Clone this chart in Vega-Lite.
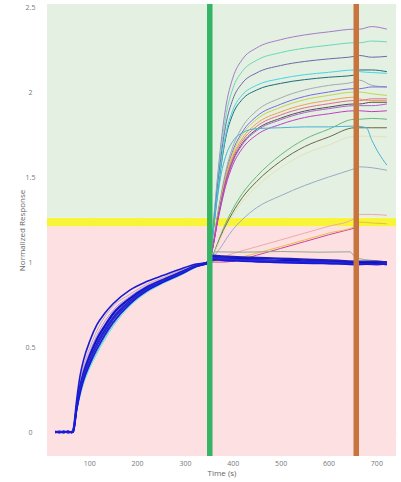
{
  "$schema": "https://vega.github.io/schema/vega-lite/v6.json",
  "width": 349,
  "height": 452,
  "autosize": {"type": "none"},
  "padding": {"left": 47, "top": 4, "right": 5, "bottom": 26},
  "background": "white",
  "config": {
    "view": {"stroke": null},
    "font": "Open Sans",
    "axis": {
      "zindex": 1,
      "domain": false,
      "ticks": false,
      "tickSize": 0,
      "grid": true,
      "gridColor": "#000000",
      "gridOpacity": 0.09,
      "labelFont": "Open Sans",
      "labelFontSize": 7,
      "labelColor": "#777777",
      "titleFont": "Open Sans",
      "titleFontSize": 8,
      "titleFontWeight": "normal",
      "titleColor": "#666666"
    }
  },
  "datasets": {
    "zones": [
      {"zone": "below", "lo": -0.3, "hi": 1.21},
      {"zone": "threshold", "lo": 1.21, "hi": 1.26},
      {"zone": "above", "lo": 1.26, "hi": 2.7}
    ],
    "events": [
      {"t": 352, "ev": "start"},
      {"t": 658, "ev": "end"}
    ],
    "assoc": [
      {"t": 29, "a1": 0, "a2": 0, "a7": 0, "a8": 0},
      {"t": 64, "a1": 0, "a2": 0, "a7": 0, "a8": 0},
      {"t": 67, "a1": 0.01, "a2": 0.01, "a7": 0.01, "a8": 0.01},
      {"t": 74, "a1": 0.172, "a2": 0.162, "a7": 0.126, "a8": 0.12},
      {"t": 81, "a1": 0.3, "a2": 0.282, "a7": 0.22, "a8": 0.21},
      {"t": 88, "a1": 0.385, "a2": 0.364, "a7": 0.291, "a8": 0.28},
      {"t": 102, "a1": 0.5, "a2": 0.476, "a7": 0.393, "a8": 0.38},
      {"t": 116, "a1": 0.595, "a2": 0.568, "a7": 0.474, "a8": 0.46},
      {"t": 150, "a1": 0.74, "a2": 0.716, "a7": 0.633, "a8": 0.62},
      {"t": 185, "a1": 0.81, "a2": 0.797, "a7": 0.748, "a8": 0.74},
      {"t": 220, "a1": 0.869, "a2": 0.859, "a7": 0.825, "a8": 0.82},
      {"t": 255, "a1": 0.909, "a2": 0.902, "a7": 0.879, "a8": 0.875},
      {"t": 290, "a1": 0.95, "a2": 0.944, "a7": 0.923, "a8": 0.92},
      {"t": 324, "a1": 0.985, "a2": 0.982, "a7": 0.972, "a8": 0.97},
      {"t": 352, "a1": 1.0, "a2": 1.0, "a7": 1.0, "a8": 1.0}
    ],
    "blue": [
      {"t": 29, "b0": 0, "b1": 0.005, "b2": -0.003, "b3": 0.002, "b4": 0, "b5": -0.004, "b6": 0.003},
      {"t": 38, "b0": 0.004, "b1": -0.002, "b2": 0.003, "b3": -0.004, "b4": 0.002, "b5": 0.001, "b6": -0.003},
      {"t": 47, "b0": -0.003, "b1": 0.004, "b2": 0, "b3": 0.003, "b4": -0.004, "b5": 0.004, "b6": 0.001},
      {"t": 56, "b0": 0.003, "b1": -0.004, "b2": 0.004, "b3": -0.002, "b4": 0.003, "b5": -0.003, "b6": 0.004},
      {"t": 64, "b0": -0.002, "b1": 0.002, "b2": -0.004, "b3": 0.004, "b4": -0.003, "b5": 0.002, "b6": -0.002},
      {"t": 67, "b0": 0.02, "b1": 0.0, "b2": 0.01, "b3": 0.015, "b4": 0.005, "b5": 0.01, "b6": 0.0},
      {"t": 74, "b0": 0.19, "b1": 0.155, "b2": 0.152, "b3": 0.145, "b4": 0.141, "b5": 0.138, "b6": 0.13},
      {"t": 81, "b0": 0.33, "b1": 0.27, "b2": 0.264, "b3": 0.252, "b4": 0.246, "b5": 0.24, "b6": 0.228},
      {"t": 88, "b0": 0.42, "b1": 0.35, "b2": 0.343, "b3": 0.329, "b4": 0.322, "b5": 0.315, "b6": 0.301},
      {"t": 102, "b0": 0.54, "b1": 0.46, "b2": 0.452, "b3": 0.436, "b4": 0.428, "b5": 0.42, "b6": 0.404},
      {"t": 116, "b0": 0.63, "b1": 0.55, "b2": 0.541, "b3": 0.523, "b4": 0.514, "b5": 0.505, "b6": 0.487},
      {"t": 133, "b0": 0.7, "b1": 0.63, "b2": 0.622, "b3": 0.606, "b4": 0.597, "b5": 0.588, "b6": 0.572},
      {"t": 150, "b0": 0.755, "b1": 0.7, "b2": 0.692, "b3": 0.676, "b4": 0.668, "b5": 0.66, "b6": 0.644},
      {"t": 185, "b0": 0.835, "b1": 0.788, "b2": 0.783, "b3": 0.773, "b4": 0.769, "b5": 0.764, "b6": 0.754},
      {"t": 220, "b0": 0.885, "b1": 0.853, "b2": 0.849, "b3": 0.843, "b4": 0.84, "b5": 0.836, "b6": 0.83},
      {"t": 255, "b0": 0.922, "b1": 0.898, "b2": 0.895, "b3": 0.891, "b4": 0.889, "b5": 0.886, "b6": 0.882},
      {"t": 290, "b0": 0.958, "b1": 0.94, "b2": 0.938, "b3": 0.934, "b4": 0.932, "b5": 0.93, "b6": 0.926},
      {"t": 324, "b0": 0.988, "b1": 0.98, "b2": 0.979, "b3": 0.977, "b4": 0.976, "b5": 0.975, "b6": 0.973},
      {"t": 352, "b0": 1.0, "b1": 1.005, "b2": 0.995, "b3": 1.0, "b4": 1.01, "b5": 0.995, "b6": 1.0},
      {"t": 358, "b0": 1.035, "b1": 1.02, "b2": 1.03, "b3": 1.01, "b4": 1.04, "b5": 1.025, "b6": 1.015},
      {"t": 380, "b0": 1.03, "b1": 1.025, "b2": 1.02, "b3": 1.015, "b4": 1.035, "b5": 1.02, "b6": 1.01},
      {"t": 420, "b0": 1.025, "b1": 1.015, "b2": 1.02, "b3": 1.01, "b4": 1.03, "b5": 1.012, "b6": 1.005},
      {"t": 470, "b0": 1.02, "b1": 1.012, "b2": 1.008, "b3": 1.0, "b4": 1.025, "b5": 1.01, "b6": 1.0},
      {"t": 520, "b0": 1.015, "b1": 1.005, "b2": 1.01, "b3": 1.0, "b4": 1.02, "b5": 1.0, "b6": 0.995},
      {"t": 570, "b0": 1.01, "b1": 1.0, "b2": 1.0, "b3": 0.995, "b4": 1.015, "b5": 0.998, "b6": 0.992},
      {"t": 620, "b0": 1.005, "b1": 0.995, "b2": 1.0, "b3": 0.99, "b4": 1.01, "b5": 0.995, "b6": 0.99},
      {"t": 660, "b0": 1.0, "b1": 0.99, "b2": 0.995, "b3": 0.99, "b4": 1.005, "b5": 0.99, "b6": 0.985},
      {"t": 700, "b0": 1.0, "b1": 0.99, "b2": 0.995, "b3": 0.985, "b4": 1.005, "b5": 0.99, "b6": 0.99},
      {"t": 722, "b0": 1.0, "b1": 0.995, "b2": 0.99, "b3": 0.99, "b4": 1.0, "b5": 0.99, "b6": 0.985}
    ],
    "diss": [
      {"t": 352, "d01": 1, "d02": 1, "d03": 1, "d04": 1, "d05": 1, "d06": 1, "d07": 1, "d08": 1, "d09": 1, "d10": 1, "d11": 1, "d12": 1, "d13": 1, "d14": 1, "d15": 1, "d16": 1},
      {"t": 360, "d01": 1.247, "d02": 1.232, "d03": 1.218, "d04": 1.198, "d05": 1.203, "d06": 1.127, "d07": 1.122, "d08": 1.12, "d09": 1.116, "d10": 1.114, "d11": 1.112, "d12": 1.11, "d13": 1.107, "d14": 1.05, "d15": 1.047, "d16": 1.044},
      {"t": 368, "d01": 1.493, "d02": 1.464, "d03": 1.436, "d04": 1.396, "d05": 1.407, "d06": 1.276, "d07": 1.265, "d08": 1.26, "d09": 1.252, "d10": 1.247, "d11": 1.242, "d12": 1.239, "d13": 1.231, "d14": 1.109, "d15": 1.103, "d16": 1.096},
      {"t": 376, "d01": 1.712, "d02": 1.671, "d03": 1.629, "d04": 1.572, "d05": 1.588, "d06": 1.403, "d07": 1.388, "d08": 1.38, "d09": 1.369, "d10": 1.361, "d11": 1.353, "d12": 1.35, "d13": 1.338, "d14": 1.168, "d15": 1.158, "d16": 1.148},
      {"t": 385, "d01": 1.904, "d02": 1.851, "d03": 1.799, "d04": 1.726, "d05": 1.746, "d06": 1.53, "d07": 1.51, "d08": 1.5, "d09": 1.485, "d10": 1.475, "d11": 1.465, "d12": 1.46, "d13": 1.445, "d14": 1.227, "d15": 1.213, "d16": 1.2},
      {"t": 400, "d01": 2.082, "d02": 2.019, "d03": 1.956, "d04": 1.869, "d05": 1.893, "d06": 1.678, "d07": 1.653, "d08": 1.64, "d09": 1.621, "d10": 1.608, "d11": 1.595, "d12": 1.589, "d13": 1.57, "d14": 1.311, "d15": 1.292, "d16": 1.274},
      {"t": 420, "d01": 2.192, "d02": 2.122, "d03": 2.053, "d04": 1.957, "d05": 1.983, "d06": 1.795, "d07": 1.765, "d08": 1.75, "d09": 1.728, "d10": 1.713, "d11": 1.698, "d12": 1.69, "d13": 1.668, "d14": 1.403, "d15": 1.379, "d16": 1.355},
      {"t": 450, "d01": 2.26, "d02": 2.187, "d03": 2.113, "d04": 2.012, "d05": 2.04, "d06": 1.89, "d07": 1.857, "d08": 1.84, "d09": 1.815, "d10": 1.798, "d11": 1.781, "d12": 1.773, "d13": 1.748, "d14": 1.504, "d15": 1.474, "d16": 1.444},
      {"t": 500, "d01": 2.308, "d02": 2.232, "d03": 2.156, "d04": 2.051, "d05": 2.079, "d06": 1.965, "d07": 1.928, "d08": 1.91, "d09": 1.883, "d10": 1.865, "d11": 1.846, "d12": 1.837, "d13": 1.81, "d14": 1.63, "d15": 1.593, "d16": 1.555},
      {"t": 550, "d01": 2.336, "d02": 2.258, "d03": 2.18, "d04": 2.073, "d05": 2.102, "d06": 2.012, "d07": 1.974, "d08": 1.955, "d09": 1.926, "d10": 1.907, "d11": 1.888, "d12": 1.879, "d13": 1.85, "d14": 1.722, "d15": 1.679, "d16": 1.636},
      {"t": 600, "d01": 2.354, "d02": 2.275, "d03": 2.195, "d04": 2.087, "d05": 2.116, "d06": 2.039, "d07": 2.0, "d08": 1.98, "d09": 1.951, "d10": 1.931, "d11": 1.911, "d12": 1.902, "d13": 1.872, "d14": 1.781, "d15": 1.735, "d16": 1.688},
      {"t": 655, "d01": 2.37, "d02": 2.29, "d03": 2.21, "d04": 2.1, "d05": 2.13, "d06": 2.06, "d07": 2.02, "d08": 2.0, "d09": 1.97, "d10": 1.95, "d11": 1.93, "d12": 1.92, "d13": 1.89, "d14": 1.84, "d15": 1.79, "d16": 1.74},
      {"t": 665, "d01": 2.37, "d02": 2.29, "d03": 2.215, "d04": 2.13, "d05": 2.12, "d06": 2.07, "d07": 2.02, "d08": 2.0, "d09": 1.96, "d10": 1.95, "d11": 1.93, "d12": 1.92, "d13": 1.89, "d14": 1.84, "d15": 1.79, "d16": 1.74},
      {"t": 690, "d01": 2.385, "d02": 2.3, "d03": 2.205, "d04": 2.13, "d05": 2.115, "d06": 2.04, "d07": 2.03, "d08": 1.99, "d09": 1.95, "d10": 1.96, "d11": 1.94, "d12": 1.92, "d13": 1.885, "d14": 1.845, "d15": 1.79, "d16": 1.74},
      {"t": 722, "d01": 2.37, "d02": 2.295, "d03": 2.21, "d04": 2.12, "d05": 2.11, "d06": 2.03, "d07": 2.03, "d08": 1.98, "d09": 1.95, "d10": 1.96, "d11": 1.94, "d12": 1.93, "d13": 1.89, "d14": 1.84, "d15": 1.79, "d16": 1.735}
    ],
    "extra": [
      {"s": "d17", "t": 352, "y": 1.0}, {"s": "d17", "t": 360, "y": 1.2}, {"s": "d17", "t": 368, "y": 1.38}, {"s": "d17", "t": 376, "y": 1.52},
      {"s": "d17", "t": 385, "y": 1.62}, {"s": "d17", "t": 400, "y": 1.71}, {"s": "d17", "t": 420, "y": 1.76}, {"s": "d17", "t": 450, "y": 1.785},
      {"s": "d17", "t": 500, "y": 1.79}, {"s": "d17", "t": 550, "y": 1.795}, {"s": "d17", "t": 600, "y": 1.795}, {"s": "d17", "t": 655, "y": 1.8},
      {"s": "d17", "t": 679, "y": 1.79}, {"s": "d17", "t": 690, "y": 1.72}, {"s": "d17", "t": 705, "y": 1.64}, {"s": "d17", "t": 722, "y": 1.57},
      {"s": "d18", "t": 352, "y": 1.0}, {"s": "d18", "t": 360, "y": 1.03}, {"s": "d18", "t": 368, "y": 1.06}, {"s": "d18", "t": 376, "y": 1.09},
      {"s": "d18", "t": 385, "y": 1.13}, {"s": "d18", "t": 400, "y": 1.19}, {"s": "d18", "t": 420, "y": 1.25}, {"s": "d18", "t": 450, "y": 1.32},
      {"s": "d18", "t": 500, "y": 1.39}, {"s": "d18", "t": 550, "y": 1.45}, {"s": "d18", "t": 600, "y": 1.5}, {"s": "d18", "t": 655, "y": 1.55},
      {"s": "d18", "t": 665, "y": 1.56}, {"s": "d18", "t": 690, "y": 1.555}, {"s": "d18", "t": 722, "y": 1.54},
      {"s": "d19", "t": 352, "y": 1.0}, {"s": "d19", "t": 370, "y": 1.02}, {"s": "d19", "t": 400, "y": 1.05}, {"s": "d19", "t": 450, "y": 1.09},
      {"s": "d19", "t": 500, "y": 1.13}, {"s": "d19", "t": 550, "y": 1.17}, {"s": "d19", "t": 600, "y": 1.21}, {"s": "d19", "t": 650, "y": 1.25},
      {"s": "d19", "t": 665, "y": 1.28}, {"s": "d19", "t": 690, "y": 1.28}, {"s": "d19", "t": 722, "y": 1.275},
      {"s": "d20", "t": 352, "y": 1.0}, {"s": "d20", "t": 380, "y": 1.0}, {"s": "d20", "t": 410, "y": 1.01}, {"s": "d20", "t": 450, "y": 1.04},
      {"s": "d20", "t": 500, "y": 1.08}, {"s": "d20", "t": 550, "y": 1.12}, {"s": "d20", "t": 600, "y": 1.16}, {"s": "d20", "t": 655, "y": 1.2},
      {"s": "d21", "t": 352, "y": 1.0}, {"s": "d21", "t": 380, "y": 1.01}, {"s": "d21", "t": 420, "y": 1.03}, {"s": "d21", "t": 460, "y": 1.06},
      {"s": "d21", "t": 500, "y": 1.09}, {"s": "d21", "t": 550, "y": 1.13}, {"s": "d21", "t": 600, "y": 1.17}, {"s": "d21", "t": 655, "y": 1.21},
      {"s": "d21", "t": 665, "y": 1.235}, {"s": "d21", "t": 690, "y": 1.23}, {"s": "d21", "t": 722, "y": 1.225},
      {"s": "d22", "t": 352, "y": 1.0}, {"s": "d22", "t": 365, "y": 1.06}, {"s": "d22", "t": 420, "y": 1.058}, {"s": "d22", "t": 500, "y": 1.062},
      {"s": "d22", "t": 580, "y": 1.058}, {"s": "d22", "t": 645, "y": 1.06}, {"s": "d22", "t": 655, "y": 1.03}, {"s": "d22", "t": 665, "y": 1.02},
      {"s": "d22", "t": 690, "y": 1.01}, {"s": "d22", "t": 722, "y": 1.0}
    ]
  },
  "encoding": {
    "x": {
      "field": "t",
      "type": "quantitative",
      "title": "Time (s)",
      "scale": {"domain": [12, 741], "nice": false, "zero": false},
      "axis": {"values": [100, 200, 300, 400, 500, 600, 700], "labelPadding": 3, "titlePadding": 3}
    }
  },
  "resolve": {"scale": {"color": "independent"}},
  "layer": [
    {
      "data": {"name": "zones"},
      "mark": {"type": "rect", "clip": true},
      "encoding": {
        "x": null,
        "y": {
          "field": "lo",
          "type": "quantitative",
          "title": "Normalized Response",
          "scale": {"domain": [-0.141, 2.518], "nice": false, "zero": false},
          "axis": {
            "values": [0, 0.5, 1, 1.5, 2, 2.5],
            "format": "~g",
            "labelAlign": "center",
            "labelPadding": 17,
            "titleX": -25,
            "titleY": 226,
            "titleBaseline": "middle",
            "titleAngle": -90
          }
        },
        "y2": {"field": "hi"},
        "color": {
          "field": "zone",
          "type": "nominal",
          "legend": null,
          "scale": {"domain": ["below", "threshold", "above"], "range": ["#fde1e2", "#f7f43a", "#e3f0e2"]}
        }
      }
    },
    {
      "data": {"name": "assoc"},
      "transform": [{"fold": ["a1", "a2", "a7", "a8"], "as": ["s", "y"]}],
      "mark": {"type": "line", "strokeWidth": 1, "interpolate": "monotone", "clip": true},
      "encoding": {
        "y": {"field": "y", "type": "quantitative"},
        "color": {
          "field": "s",
          "type": "nominal",
          "legend": null,
          "scale": {"domain": ["a1", "a2", "a7", "a8"], "range": ["#c4a4b4", "#a494d4", "#34a4c4", "#64dce4"]}
        }
      }
    },
    {
      "data": {"name": "diss"},
      "transform": [{"fold": ["d01", "d02", "d03", "d04", "d05", "d06", "d07", "d08", "d09", "d10", "d11", "d12", "d13", "d14", "d15", "d16"], "as": ["s", "y"]}],
      "mark": {"type": "line", "strokeWidth": 1, "interpolate": "monotone", "clip": true},
      "encoding": {
        "y": {"field": "y", "type": "quantitative"},
        "color": {
          "field": "s",
          "type": "nominal",
          "legend": null,
          "scale": {
            "domain": ["d01", "d02", "d03", "d04", "d05", "d06", "d07", "d08", "d09", "d10", "d11", "d12", "d13", "d14", "d15", "d16"],
            "range": ["#a47cc8", "#6ad8b8", "#6a6aaa", "#206c78", "#48d4e4", "#a8a8b0", "#7a6ae0", "#c8d448", "#f0a050", "#e86a8a", "#505050", "#b060d0", "#c040c0", "#6ab87a", "#6a6a3a", "#e6e2b8"]
          }
        }
      }
    },
    {
      "data": {"name": "extra"},
      "mark": {"type": "line", "strokeWidth": 1, "interpolate": "monotone", "clip": true},
      "encoding": {
        "y": {"field": "y", "type": "quantitative"},
        "color": {
          "field": "s",
          "type": "nominal",
          "legend": null,
          "scale": {"domain": ["d17", "d18", "d19", "d20", "d21", "d22"], "range": ["#48b4d4", "#98acc8", "#f0a8a8", "#d040a0", "#e8c040", "#90a890"]}
        }
      }
    },
    {
      "data": {"name": "blue"},
      "transform": [{"fold": ["b0", "b1", "b2", "b3", "b4", "b5", "b6"], "as": ["s", "y"]}],
      "mark": {"type": "line", "strokeWidth": 1.6, "interpolate": "monotone", "clip": true},
      "encoding": {
        "y": {"field": "y", "type": "quantitative"},
        "color": {
          "field": "s",
          "type": "nominal",
          "legend": null,
          "scale": {"domain": ["b0", "b1", "b2", "b3", "b4", "b5", "b6"], "range": ["#1a1ad0", "#2525e0", "#1010c0", "#3030e0", "#2020b8", "#2a2ad8", "#1818d8"]}
        }
      }
    },
    {
      "data": {"name": "events"},
      "mark": {"type": "rule", "strokeWidth": 5.5, "clip": true},
      "encoding": {
        "color": {
          "field": "ev",
          "type": "nominal",
          "legend": null,
          "scale": {"domain": ["start", "end"], "range": ["#36b466", "#c8743e"]}
        }
      }
    }
  ]
}
